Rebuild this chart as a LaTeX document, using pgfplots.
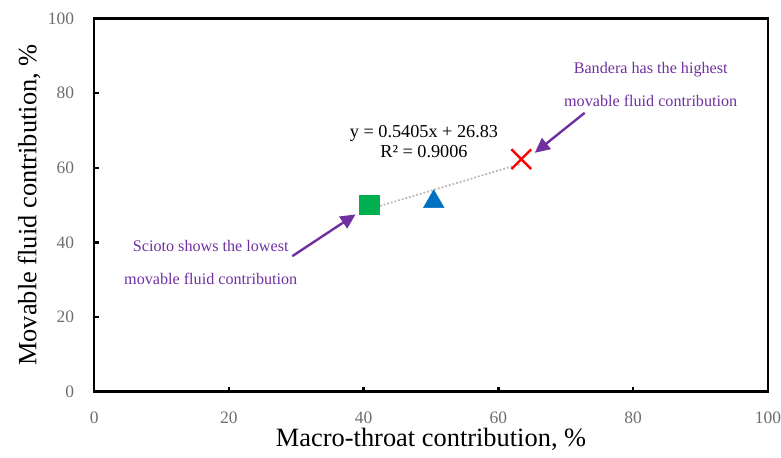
\documentclass[border=0pt]{standalone}
\usepackage{pgfplots}
\pgfplotsset{compat=1.18}
\usepackage{fontspec}
\setmainfont{Liberation Serif}
\usetikzlibrary{arrows.meta}
\definecolor{mgreen}{RGB}{0,176,80}
\definecolor{mblue}{RGB}{0,112,192}
\definecolor{mpurple}{RGB}{112,48,160}
\definecolor{tgray}{RGB}{110,110,110}
\begin{document}
\begin{tikzpicture}
\begin{axis}[
  scale only axis,
  width=676pt, height=374.5pt,
  xmin=0, xmax=100, ymin=0, ymax=100,
  xtick={0,20,...,100}, ytick={0,20,...,100},
  tick align=inside,
  xtick pos=bottom, ytick pos=left,
  major tick length=5pt,
  axis line style={line width=2.4pt},
  tick style={line width=2.4pt, black},
  /pgf/number format/assume math mode=true,
  ticklabel style={font=\fontsize{17.5}{20}\selectfont, text=tgray, inner sep=0pt},
  xticklabel style={anchor=north, yshift=-20pt},
  yticklabel style={anchor=east, xshift=-20pt},
  xlabel={Macro-throat contribution, \%},
  ylabel={Movable fluid contribution, \%},
  label style={font=\fontsize{26.5}{30}\selectfont, inner sep=0pt},
  xlabel style={at={(axis description cs:0.5,0)}, anchor=base, yshift=-55pt},
  ylabel style={at={(axis description cs:0,0.5)}, anchor=base, yshift=58pt},
  clip=false,
]
\addplot[gray!55, line width=1.8pt, dotted] coordinates {(40.8,48.88) (63.4,61.10)};
\addplot[only marks, mark=square*, mark size=10pt, mgreen] coordinates {(40.8,50.1)};
\addplot[only marks, mark=triangle*, mark size=12pt, mblue] coordinates {(50.4,50.9)};
\addplot[only marks, mark=x, mark size=14pt, red, line width=2.4pt] coordinates {(63.4,62.3)};
\node[font=\fontsize{18.3}{20}\selectfont, align=center] at (axis cs:48.95,66.9) {y = 0.5405x + 26.83\\R² = 0.9006};
\node[font=\fontsize{16.2}{33}\selectfont, text=mpurple, align=center] at (axis cs:82.6,82.4) {Bandera has the highest\\movable fluid contribution};
\node[font=\fontsize{16.2}{33}\selectfont, text=mpurple, align=center] at (axis cs:17.3,34.7) {Scioto shows the lowest\\movable fluid contribution};
\draw[mpurple, line width=2.4pt, -{Triangle[length=15pt,width=14pt]}] (axis cs:72.8,74.7) -- (axis cs:65.4,64.0);
\draw[mpurple, line width=2.4pt, -{Triangle[length=15pt,width=14pt]}] (axis cs:29.4,36.3) -- (axis cs:38.8,47.5);
\end{axis}
\path ([shift={(-94.5pt,-66pt)}]current axis.south west) rectangle ([shift={(0pt,18.5pt)}]current axis.north east);
\end{tikzpicture}
\end{document}
